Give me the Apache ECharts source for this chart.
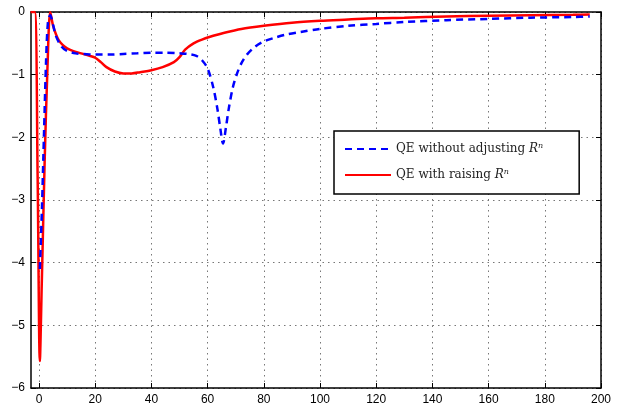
<!DOCTYPE html>
<html>
<head>
<meta charset="utf-8">
<script src="https://cdn.jsdelivr.net/npm/echarts@6/dist/echarts.min.js"></script>
<style>
  html, body { margin: 0; padding: 0; background: #fff; }
  #chart { width: 625px; height: 411px; }
</style>
</head>
<body>
<div id="chart"></div>
<script>
// Iteration index and the two error curves
const xTicks = [0, 20, 40, 60, 80, 100, 120, 140, 160, 180, 200];
const yTicks = [0, -1, -2, -3, -4, -5, -6];

const blueX = [0.3, 1, 1.8, 2.5, 3.2, 4, 5, 6, 8, 10, 13, 16, 20, 25, 30, 35, 40, 45, 50, 53, 56, 58, 60, 62, 63.5, 64.5, 65.5, 66.5, 67.5, 69, 70.5, 72, 74, 77, 80, 84, 88, 93, 100, 110, 120, 130, 145, 160, 175, 190, 196];
const blueY = [-4.1, -3.2, -1.9, -0.8, -0.15, -0.05, -0.2, -0.38, -0.55, -0.62, -0.66, -0.67, -0.68, -0.68, -0.67, -0.66, -0.65, -0.65, -0.66, -0.67, -0.7, -0.77, -0.9, -1.2, -1.55, -1.85, -2.1, -1.85, -1.55, -1.2, -0.98, -0.82, -0.68, -0.55, -0.47, -0.41, -0.36, -0.32, -0.27, -0.22, -0.19, -0.16, -0.13, -0.11, -0.09, -0.08, -0.07];

const redX = [-3, -1.5, -0.5, 0.3, 1, 2, 3, 4, 5, 6, 7, 8.5, 10, 12, 15, 18, 20, 22, 24, 27, 30, 33, 36, 40, 44, 48, 50, 52, 55, 58, 62, 66, 72, 80, 90, 100, 110, 120, 130, 145, 160, 175, 190, 196];
const redY = [0, 0, -2.6, -5.57, -4.3, -2.4, -0.9, 0, -0.22, -0.35, -0.45, -0.53, -0.58, -0.62, -0.66, -0.7, -0.73, -0.8, -0.88, -0.95, -0.98, -0.98, -0.96, -0.93, -0.88, -0.8, -0.72, -0.6, -0.5, -0.44, -0.38, -0.33, -0.27, -0.22, -0.17, -0.14, -0.12, -0.1, -0.09, -0.07, -0.06, -0.05, -0.045, -0.04];

const seriesNames = ['QE without adjusting R^n', 'QE with raising R^n'];

const toPairs = (xs, ys) => xs.map((x, i) => [x, ys[i]]);
const minus = v => String(v).replace('-', '\u2212');

const X_MIN = -2.85, X_MAX = 200;
const dotted = { color: '#777', type: [1.5, 4], width: 1 };
const tickStyle = { color: '#000', width: 1 };

const chart = echarts.init(document.getElementById('chart'));
chart.setOption({
  animation: false,
  grid: { left: 31, right: 24, top: 12, bottom: 23, show: false },
  xAxis: [
    {
      type: 'value', min: X_MIN, max: X_MAX, position: 'bottom',
      axisLine: { show: true, onZero: false, lineStyle: { color: '#000', width: 1.5 } },
      axisTick: { show: true, inside: true, length: 5, customValues: xTicks, lineStyle: tickStyle },
      axisLabel: { customValues: xTicks, color: '#000', fontSize: 12, fontFamily: 'Liberation Sans, Arial', margin: 6 },
      splitLine: { show: true, lineStyle: dotted }
    },
    {
      type: 'value', min: X_MIN, max: X_MAX, position: 'top',
      axisLine: { show: true, onZero: false, lineStyle: { color: '#000', width: 1.5 } },
      axisTick: { show: true, inside: true, length: 5, customValues: xTicks, lineStyle: tickStyle },
      axisLabel: { show: false, customValues: xTicks },
      splitLine: { show: false }
    }
  ],
  yAxis: [
    {
      type: 'value', min: -6, max: 0, interval: 1, position: 'left',
      axisLine: { show: true, onZero: false, lineStyle: { color: '#000', width: 1.5 } },
      axisTick: { show: true, inside: true, length: 5, lineStyle: tickStyle },
      axisLabel: { color: '#000', fontSize: 12, fontFamily: 'Liberation Sans, Arial', margin: 6, formatter: minus },
      splitLine: { show: true, lineStyle: dotted }
    },
    {
      type: 'value', min: -6, max: 0, interval: 1, position: 'right',
      axisLine: { show: true, onZero: false, lineStyle: { color: '#000', width: 1.5 } },
      axisTick: { show: true, inside: true, length: 5, lineStyle: tickStyle },
      axisLabel: { show: false },
      splitLine: { show: false }
    }
  ],
  legend: {
    orient: 'vertical', left: 334, top: 131,
    padding: [11, 36, 13, 10], itemGap: 13,
    itemWidth: 46, itemHeight: 14,
    backgroundColor: '#fff', borderColor: '#000', borderWidth: 1.5,
    itemStyle: { opacity: 0 },
    data: seriesNames,
    formatter: n => n.replace(' R^n', ' {r|R}{s|n}'),
    textStyle: {
      fontFamily: 'DejaVu Serif', fontSize: 12, color: '#222',
      rich: {
        r: { fontFamily: 'DejaVu Serif', fontStyle: 'italic', fontSize: 12, color: '#222' },
        s: { fontFamily: 'DejaVu Serif', fontStyle: 'italic', fontSize: 8, color: '#222', verticalAlign: 'top', padding: [0, 0, 6, 0] }
      }
    }
  },
  series: [
    {
      name: seriesNames[0], type: 'line', showSymbol: false, symbol: 'none',
      data: toPairs(blueX, blueY), smooth: 0.3,
      lineStyle: { color: '#0000ff', width: 2.5, type: [7, 5] },
      itemStyle: { color: '#0000ff' }, z: 3
    },
    {
      name: seriesNames[1], type: 'line', showSymbol: false, symbol: 'none',
      data: toPairs(redX, redY), smooth: 0.3,
      lineStyle: { color: '#ff0000', width: 2.5 },
      itemStyle: { color: '#ff0000' }, z: 2
    }
  ]
});
</script>
</body>
</html>
